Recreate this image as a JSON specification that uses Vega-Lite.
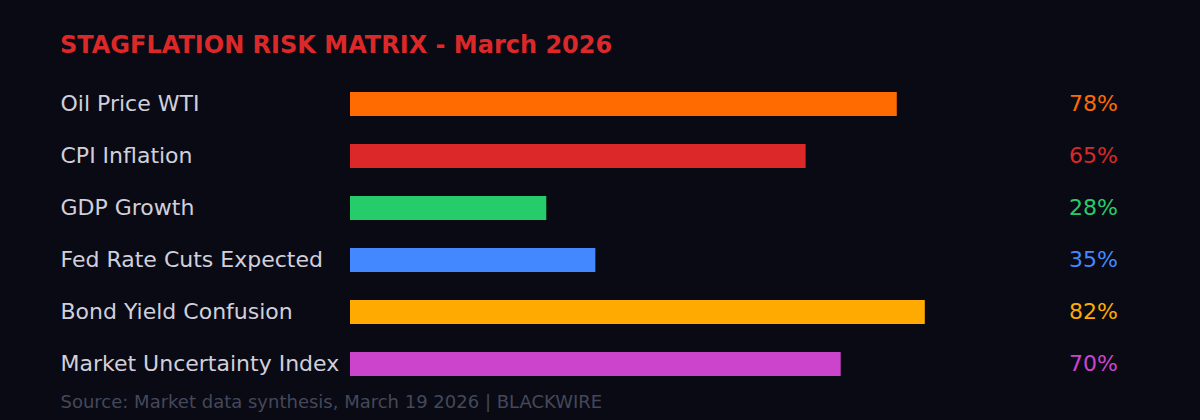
{
  "$schema": "https://vega.github.io/schema/vega-lite/v6.json",
  "autosize": {"type": "none"},
  "width": 701,
  "height": 312,
  "padding": {"left": 350, "top": 78, "right": 149, "bottom": 30},
  "background": "#0a0a14",
  "config": {
    "view": {"stroke": null},
    "font": "DejaVu Sans"
  },
  "title": {
    "text": "STAGFLATION RISK MATRIX - March 2026",
    "anchor": "start",
    "frame": "group",
    "dx": -290,
    "dy": 23,
    "offset": 24,
    "baseline": "alphabetic",
    "font": "DejaVu Sans",
    "fontSize": 24,
    "fontWeight": "bold",
    "color": "#dc2828"
  },
  "data": {
    "values": [
      {"factor": "Oil Price WTI", "risk": 0.78, "colour": "#ff6b00"},
      {"factor": "CPI Inflation", "risk": 0.65, "colour": "#dc2828"},
      {"factor": "GDP Growth", "risk": 0.28, "colour": "#26cc6a"},
      {"factor": "Fed Rate Cuts Expected", "risk": 0.35, "colour": "#4488ff"},
      {"factor": "Bond Yield Confusion", "risk": 0.82, "colour": "#ffaa00"},
      {"factor": "Market Uncertainty Index", "risk": 0.70, "colour": "#cc44cc"}
    ]
  },
  "encoding": {
    "y": {
      "field": "factor",
      "type": "nominal",
      "sort": null,
      "scale": {"paddingInner": 0.54, "paddingOuter": 0.27},
      "axis": {
        "title": null,
        "domain": false,
        "ticks": false,
        "tickSize": 0,
        "labelAlign": "left",
        "labelPadding": 290,
        "labelLimit": 400,
        "labelFont": "DejaVu Sans",
        "labelFontSize": 22,
        "labelColor": "#d0d0dc",
        "labelBaseline": "middle"
      }
    }
  },
  "layer": [
    {
      "mark": {"type": "bar"},
      "encoding": {
        "x": {
          "field": "risk",
          "type": "quantitative",
          "scale": {"domain": [0, 1]},
          "axis": {
            "title": "Source: Market data synthesis, March 19 2026 | BLACKWIRE",
            "titleX": -290,
            "titleY": 17,
            "titleAlign": "left",
            "titleBaseline": "alphabetic",
            "titleFont": "DejaVu Sans",
            "titleFontSize": 18,
            "titleFontWeight": "normal",
            "titleColor": "#44485a",
            "domain": false,
            "ticks": false,
            "labels": false,
            "grid": false
          }
        },
        "color": {"field": "colour", "type": "nominal", "scale": null}
      }
    },
    {
      "mark": {"type": "text", "align": "right", "baseline": "middle", "dx": 67, "fontSize": 22, "font": "DejaVu Sans"},
      "encoding": {
        "x": {"datum": 1, "type": "quantitative"},
        "text": {"field": "risk", "type": "quantitative", "format": ".0%"},
        "color": {"field": "colour", "type": "nominal", "scale": null}
      }
    }
  ]
}
